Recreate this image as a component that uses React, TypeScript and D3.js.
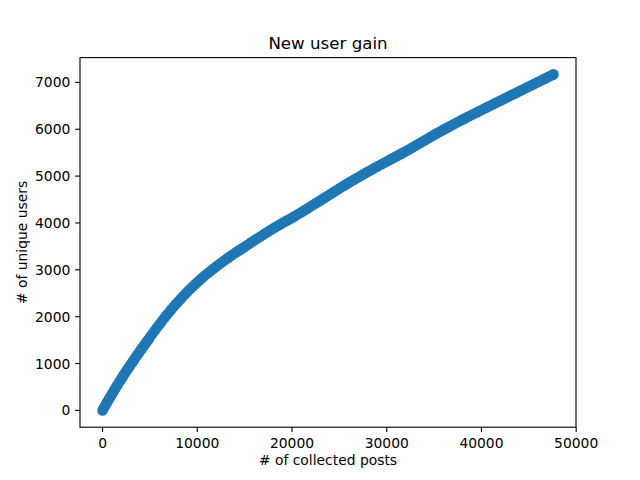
import React from "react";
import * as d3 from "d3";

const postsCollected: number[] = [
  0, 125, 250, 375, 500, 625, 750, 875, 1000, 1125, 1250, 1375, 1500, 1625, 1750, 1875, 2000, 2125, 2250, 2375,
  2500, 2625, 2750, 2875, 3000, 3125, 3250, 3375, 3500, 3625, 3750, 3875, 4000, 4125, 4250, 4375, 4500, 4625, 4750, 4875,
  5000, 5250, 5500, 5750, 6000, 6250, 6500, 6750, 7000, 7250, 7500, 7750, 8000, 8250, 8500, 8750, 9000, 9250, 9500, 9750,
  10000, 10250, 10500, 10750, 11000, 11250, 11500, 11750, 12000, 12250, 12500, 12750, 13000, 13250, 13500, 13750,
  14000, 14250, 14500, 14750, 15000, 15250, 15500, 15750, 16000, 16250, 16500, 16750, 17000, 17250, 17500, 17750,
  18000, 18250, 18500, 18750, 19000, 19250, 19500, 19750, 20000, 20250, 20500, 20750, 21000, 21250, 21500, 21750,
  22000, 22250, 22500, 22750, 23000, 23250, 23500, 23750, 24000, 24250, 24500, 24750, 25000, 25250, 25500, 25750,
  26000, 26250, 26500, 26750, 27000, 27250, 27500, 27750, 28000, 28250, 28500, 28750, 29000, 29250, 29500, 29750,
  30000, 30250, 30500, 30750, 31000, 31250, 31500, 31750, 32000, 32250, 32500, 32750, 33000, 33250, 33500, 33750,
  34000, 34250, 34500, 34750, 35000, 35250, 35500, 35750, 36000, 36250, 36500, 36750, 37000, 37250, 37500, 37750,
  38000, 38250, 38500, 38750, 39000, 39250, 39500, 39750, 40000, 40250, 40500, 40750, 41000, 41250, 41500, 41750,
  42000, 42250, 42500, 42750, 43000, 43250, 43500, 43750, 44000, 44250, 44500, 44750, 45000, 45250, 45500, 45750,
  46000, 46250, 46500, 46750, 47000, 47250, 47500, 47600,
];

const uniqueUsers: number[] = [
  0, 46, 90, 134, 178, 222, 265, 308, 350, 393, 435, 477, 518, 559, 600, 640, 680, 719, 758, 797,
  835, 873, 910, 948, 985, 1023, 1060, 1097, 1133, 1169, 1205, 1241, 1277, 1313, 1348, 1383, 1418, 1453, 1487, 1523,
  1560, 1631, 1700, 1768, 1835, 1900, 1965, 2028, 2090, 2150, 2210, 2268, 2325, 2380, 2435, 2488, 2540, 2590, 2640, 2688,
  2735, 2780, 2825, 2868, 2910, 2950, 2990, 3030, 3070, 3108, 3145, 3183, 3220, 3255, 3290, 3325,
  3360, 3393, 3425, 3458, 3490, 3524, 3558, 3592, 3625, 3658, 3690, 3722, 3755, 3787, 3818, 3849,
  3880, 3910, 3940, 3969, 3998, 4027, 4055, 4082, 4110, 4140, 4170, 4200, 4230, 4261, 4292, 4323,
  4355, 4387, 4418, 4449, 4480, 4513, 4545, 4576, 4608, 4639, 4670, 4703, 4735, 4766, 4797, 4829,
  4860, 4889, 4918, 4947, 4976, 5005, 5034, 5063, 5092, 5120, 5148, 5176, 5203, 5231, 5258, 5285,
  5312, 5339, 5366, 5393, 5420, 5447, 5474, 5501, 5528, 5556, 5585, 5614, 5643, 5673, 5702, 5731,
  5760, 5790, 5820, 5850, 5880, 5908, 5936, 5964, 5991, 6018, 6045, 6072, 6099, 6126, 6153, 6179,
  6205, 6231, 6257, 6283, 6309, 6334, 6359, 6384, 6410, 6435, 6460, 6485, 6510, 6535, 6560, 6585,
  6610, 6635, 6660, 6685, 6710, 6735, 6760, 6785, 6810, 6835, 6860, 6885, 6910, 6935, 6960, 6985,
  7010, 7035, 7060, 7085, 7110, 7135, 7160, 7170,
];

const xTicks: number[] = [0, 10000, 20000, 30000, 40000, 50000];
const yTicks: number[] = [0, 1000, 2000, 3000, 4000, 5000, 6000, 7000];

const W = 640;
const H = 480;
const left = 80;
const right = 576;
const top = 57.6;
const bottom = 427.2;
const FONT = "DejaVu Sans, sans-serif";
const COLOR = "#1f77b4";

export default function App() {
  const xExt = d3.extent(postsCollected) as [number, number];
  const yExt = d3.extent(uniqueUsers) as [number, number];
  const xPad = (xExt[1] - xExt[0]) * 0.05;
  const yPad = (yExt[1] - yExt[0]) * 0.05;
  const x = d3.scaleLinear().domain([xExt[0] - xPad, xExt[1] + xPad]).range([left, right]);
  const y = d3.scaleLinear().domain([yExt[0] - yPad, yExt[1] + yPad]).range([bottom, top]);
  const tickLen = 4.86;

  return (
    <svg width={W} height={H} style={{ position: "absolute", left: 0, top: 0, background: "#fff" }}>
      <rect x={0} y={0} width={W} height={H} fill="#fff" />
      <g>
        {postsCollected.map((p, i) => (
          <circle key={i} cx={x(p)} cy={y(uniqueUsers[i])} r={4.3} fill={COLOR} stroke={COLOR} strokeWidth={2.08} />
        ))}
      </g>
      <rect x={left} y={top} width={right - left} height={bottom - top} fill="none" stroke="#000" strokeWidth={1.1} />
      {xTicks.map((t) => (
        <g key={"x" + t}>
          <line x1={x(t)} x2={x(t)} y1={bottom} y2={bottom + tickLen} stroke="#000" strokeWidth={1.1} />
          <text x={x(t)} y={447.6} textAnchor="middle" fontFamily={FONT} fontSize={13.89} fill="#000">
            {t}
          </text>
        </g>
      ))}
      {yTicks.map((t) => (
        <g key={"y" + t}>
          <line x1={left - tickLen} x2={left} y1={y(t)} y2={y(t)} stroke="#000" strokeWidth={1.1} />
          <text x={70.3} y={y(t) + 5} textAnchor="end" fontFamily={FONT} fontSize={13.89} fill="#000">
            {t}
          </text>
        </g>
      ))}
      <text x={(left + right) / 2} y={465} textAnchor="middle" fontFamily={FONT} fontSize={13.89} fill="#000">
        # of collected posts
      </text>
      <text
        transform={`translate(21.5, ${(top + bottom) / 2}) rotate(-90)`}
        textAnchor="middle"
        dominantBaseline="central"
        fontFamily={FONT}
        fontSize={13.89}
        fill="#000"
      >
        # of unique users
      </text>
      <text x={(left + right) / 2} y={49.3} textAnchor="middle" fontFamily={FONT} fontSize={16.67} fill="#000">
        New user gain
      </text>
    </svg>
  );
}
